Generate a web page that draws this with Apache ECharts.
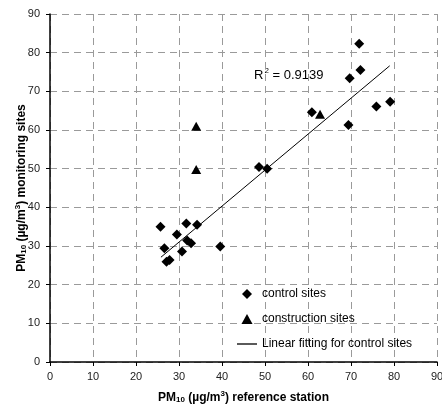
<!DOCTYPE html>
<html>
<head>
<meta charset="utf-8">
<script src="https://cdn.jsdelivr.net/npm/echarts@6/dist/echarts.min.js"></script>
<style>
  html, body { margin: 0; padding: 0; background: #fff; }
  #chart { width: 442px; height: 408px; }
</style>
</head>
<body>
<div id="chart"></div>
<script>
// control sites: reference station vs monitoring site PM10
var controlX = [25.7, 26.6, 27.1, 27.8, 29.5, 30.7, 31.7, 31.9, 32.8, 34.2, 39.6, 48.6, 50.5, 60.9, 69.4, 69.7, 71.9, 72.2, 75.9, 79.1];
var controlY = [35.0, 29.4, 25.9, 26.4, 33.0, 28.6, 35.8, 31.4, 30.7, 35.5, 29.9, 50.4, 50.0, 64.6, 61.3, 73.4, 82.3, 75.5, 66.1, 67.3];

// construction sites
var constructionX = [34.0, 34.0, 62.8];
var constructionY = [61.0, 49.8, 64.1];

// fitted line end points (control sites)
var fitX = [25.8, 79.0];
var fitY = [27.1, 76.6];

var axisTicks = [0, 10, 20, 30, 40, 50, 60, 70, 80, 90];
var r2Text = '0.9139';

function zip(xs, ys) {
    return xs.map(function (x, i) { return [x, ys[i]]; });
}

var font = 'Liberation Sans, Arial, sans-serif';
var gridLine = { show: true, lineStyle: { color: '#9a9a9a', type: [7, 5], width: 1 } };

var diamondIcon = 'path://M5,0L10,5L5,10L0,5Z';
var triangleIcon = 'path://M5,0L10,9L0,9Z';
var lineIcon = 'path://M0,0H20V1.3H0Z';

function nameRich() {
    return {
        b: { fontFamily: font, fontSize: 12, fontWeight: 'bold', color: '#000', lineHeight: 16 },
        sub: { fontFamily: font, fontSize: 8, fontWeight: 'bold', color: '#000', lineHeight: 16, verticalAlign: 'bottom', padding: [0, 0, 2, 0] },
        sup: { fontFamily: font, fontSize: 8, fontWeight: 'bold', color: '#000', lineHeight: 16, verticalAlign: 'top' }
    };
}

var chart = echarts.init(document.getElementById('chart'));

var option = {
    animation: false,
    backgroundColor: '#fff',
    grid: { left: 50, right: 5, top: 14, bottom: 46, containLabel: false, outerBoundsMode: 'none' },
    xAxis: {
        type: 'value',
        min: axisTicks[0],
        max: axisTicks[axisTicks.length - 1],
        interval: 10,
        name: '{b|PM}{sub|10}{b| (µg/m}{sup|3}{b|) reference station}',
        nameLocation: 'middle',
        nameGap: 28,
        nameMoveOverlap: false,
        nameTextStyle: { rich: nameRich() },
        axisLine: { show: true, onZero: false, lineStyle: { color: '#000', width: 1.5 } },
        axisTick: { show: true, length: 4, lineStyle: { color: '#000' } },
        axisLabel: { margin: 9, fontFamily: font, fontSize: 11, color: '#222' },
        splitLine: gridLine
    },
    yAxis: {
        type: 'value',
        min: axisTicks[0],
        max: axisTicks[axisTicks.length - 1],
        interval: 10,
        name: '{b|PM}{sub|10}{b| (µg/m}{sup|3}{b|) monitoring sites}',
        nameLocation: 'middle',
        nameRotate: 90,
        nameGap: 20,
        nameMoveOverlap: false,
        nameTextStyle: { rich: nameRich() },
        axisLine: { show: true, onZero: false, lineStyle: { color: '#000', width: 1.5 } },
        axisTick: { show: true, length: 4, lineStyle: { color: '#000' } },
        axisLabel: { margin: 10, fontFamily: font, fontSize: 11, color: '#222' },
        splitLine: gridLine
    },
    legend: {
        orient: 'vertical',
        left: 232,
        top: 283,
        itemWidth: 20,
        itemHeight: 10,
        itemGap: 13,
        symbolKeepAspect: true,
        textStyle: { fontFamily: font, fontSize: 12, color: '#000' },
        data: [
            { name: 'control sites', icon: diamondIcon, itemStyle: { color: '#000' } },
            { name: 'construction sites', icon: triangleIcon, itemStyle: { color: '#000' } },
            { name: 'Linear fitting for control sites', icon: lineIcon, itemStyle: { color: '#000' } }
        ]
    },
    graphic: [{
        type: 'text',
        left: 254,
        top: 67,
        style: {
            text: '{a|R}{s|2}{a| = ' + r2Text + '}',
            rich: {
                a: { fontFamily: font, fontSize: 13, color: '#000', lineHeight: 16 },
                s: { fontFamily: font, fontSize: 8, color: '#000', lineHeight: 16, verticalAlign: 'top', padding: [0, 0, 0, 1] }
            }
        }
    }],
    series: [
        {
            name: 'Linear fitting for control sites',
            type: 'line',
            symbol: 'none',
            data: zip(fitX, fitY),
            lineStyle: { color: '#000', width: 1 },
            itemStyle: { color: '#000' },
            z: 2
        },
        {
            name: 'control sites',
            type: 'scatter',
            symbol: 'diamond',
            symbolSize: [10, 10],
            data: zip(controlX, controlY),
            itemStyle: { color: '#000', opacity: 1 },
            z: 3
        },
        {
            name: 'construction sites',
            type: 'scatter',
            symbol: 'triangle',
            symbolSize: [10, 9],
            data: zip(constructionX, constructionY),
            itemStyle: { color: '#000', opacity: 1 },
            z: 3
        }
    ]
};

chart.setOption(option);
</script>
</body>
</html>
